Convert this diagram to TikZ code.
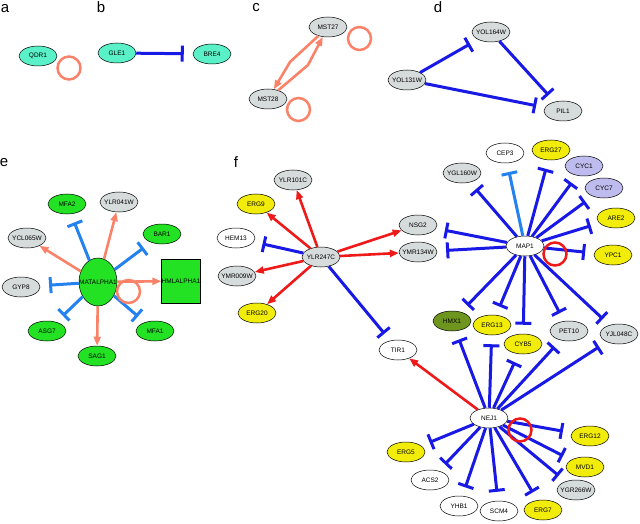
\documentclass[tikz,border=0pt]{standalone}
\usepackage{fontspec}
\setmainfont{Liberation Sans}
\usetikzlibrary{arrows.meta, shapes.geometric}
\definecolor{turq}{RGB}{90,240,200}
\definecolor{genegray}{RGB}{214,219,219}
\definecolor{geneyellow}{RGB}{242,236,10}
\definecolor{genegreen}{RGB}{35,225,35}
\definecolor{geneolive}{RGB}{110,150,30}
\definecolor{genelav}{RGB}{190,188,238}
\definecolor{inhblue}{RGB}{25,25,230}
\definecolor{inhlight}{RGB}{35,130,240}
\definecolor{salmon}{RGB}{250,130,105}
\definecolor{actred}{RGB}{238,25,25}

\begin{document}
\begin{tikzpicture}[
    x=1pt, y=-1pt,
    gene/.style={draw, ellipse, line width=0.5pt, minimum width=38pt, minimum height=20pt,
                 inner sep=0pt, font=\fontsize{6.5}{6.5}\selectfont,
                 execute at begin node={\setbox0=\hbox\bgroup},
                 execute at end node={\egroup\makebox[0pt]{\box0}}},
    inh/.style={draw=inhblue, line width=3pt, -{Bar[width=16pt]}, shorten >=9pt},
    inhl/.style={inh, draw=inhlight},
    act/.style={draw=salmon, line width=2.6pt, -{Triangle[length=9pt,width=7pt]}},
    actr/.style={act, draw=actred},
    selfloop/.style={draw=salmon, line width=2.5pt},
    panel/.style={inner sep=0pt, font=\fontsize{15}{15}\selectfont}
  ]
  \useasboundingbox (0,0) rectangle (640,524);

  % Panel labels
  \node[panel] (pa) at (5,9) {a};
  \node[panel] (pb) at (101,7.5) {b};
  \node[panel] (pc) at (256,8) {c};
  \node[panel] (pd) at (438,7.5) {d};
  \node[panel] (pe) at (4,162.5) {e};
  \node[panel] (pf) at (236,162) {f};

  % a
  \node[gene, fill=turq] (qdr1) at (38,56) {QDR1};
  \draw[selfloop] ([shift={(31,12)}]qdr1.center) circle (11.5pt);

  % b
  \node[gene, fill=turq] (gle1) at (117,53) {GLE1};
  \node[gene, fill=turq] (bre4) at (212,54) {BRE4};
  \draw[inh] (gle1) -- (bre4);

  % c
  \node[gene, fill=genegray] (mst27) at (328,27) {MST27};
  \node[gene, fill=genegray] (mst28) at (268,99) {MST28};
  \coordinate (bendA) at (290,62);
  \coordinate (bendB) at (308,65);
  \draw[act] (mst27) -- (bendA) -- (mst28);
  \draw[act] (mst28) -- (bendB) -- (mst27);
  \draw[selfloop] ([shift={(31.5,11.5)}]mst27.center) circle (11.5pt);
  \draw[selfloop] ([shift={(30.5,10.5)}]mst28.center) circle (11.5pt);

  % d
  \node[gene, fill=genegray] (yol164w) at (491,32) {YOL164W};
  \node[gene, fill=genegray] (yol131w) at (407,80) {YOL131W};
  \node[gene, fill=genegray] (pil1) at (563,111) {PIL1};
  \draw[inh] (yol131w) -- (yol164w);
  \draw[inh] (yol164w) -- (pil1);
  \draw[inh] (yol131w) -- (pil1);

  % e
  \node[gene, fill=genegreen, minimum height=48pt] (matalpha1) at (98,282) {MATALPHA1};
  \node[draw, line width=0.5pt, fill=genegreen, minimum width=38pt, minimum height=44pt,
        inner sep=0pt, font=\fontsize{6.5}{6.5}\selectfont] (hmlalpha1) at (181,281) {HMLALPHA1};
  \node[gene, fill=genegreen] (mfa2) at (67,204) {MFA2};
  \node[gene, fill=genegray] (ylr041w) at (119,202) {YLR041W};
  \node[gene, fill=genegreen] (bar1) at (162,234) {BAR1};
  \node[gene, fill=genegray] (ycl065w) at (27,238) {YCL065W};
  \node[gene, fill=genegray] (gyp8) at (21,287) {GYP8};
  \node[gene, fill=genegreen] (asg7) at (47,331) {ASG7};
  \node[gene, fill=genegreen] (sag1) at (97,356) {SAG1};
  \node[gene, fill=genegreen] (mfa1) at (155,331) {MFA1};
  \foreach \t in {mfa2,bar1,gyp8,asg7,mfa1}
    \draw[inhl] (matalpha1) -- (\t);
  \foreach \t in {ylr041w,ycl065w,sag1,hmlalpha1}
    \draw[act] (matalpha1) -- (\t);
  \draw[selfloop] ([shift={(30.5,9.5)}]matalpha1.center) circle (11.5pt);

  % f
  \node[gene, fill=genegray] (ylr247c) at (321,257) {YLR247C};
  \node[gene, fill=genegray] (ylr101c) at (293,180) {YLR101C};
  \node[gene, fill=geneyellow] (erg9) at (256,204) {ERG9};
  \node[gene, fill=white] (hem13) at (236,238) {HEM13};
  \node[gene, fill=genegray] (ymr009w) at (237,276) {YMR009W};
  \node[gene, fill=geneyellow] (erg20) at (257,313) {ERG20};
  \node[gene, fill=genegray] (nsg2) at (418,225) {NSG2};
  \node[gene, fill=genegray] (ymr134w) at (418,252) {YMR134W};
  \node[gene, fill=white] (map1) at (525,246) {MAP1};
  \node[gene, fill=genegray] (ygl160w) at (462,173) {YGL160W};
  \node[gene, fill=white] (cep3) at (505,153) {CEP3};
  \node[gene, fill=geneyellow] (erg27) at (551,150) {ERG27};
  \node[gene, fill=genelav] (cyc1) at (584,166) {CYC1};
  \node[gene, fill=genelav] (cyc7) at (604,188) {CYC7};
  \node[gene, fill=geneyellow] (are2) at (616,218) {ARE2};
  \node[gene, fill=geneyellow] (ypc1) at (613,255) {YPC1};
  \node[gene, fill=geneolive] (hmx1) at (452,321) {HMX1};
  \node[gene, fill=geneyellow] (erg13) at (492,325) {ERG13};
  \node[gene, fill=geneyellow] (cyb5) at (523,344) {CYB5};
  \node[gene, fill=genegray] (pet10) at (569,331) {PET10};
  \node[gene, fill=genegray] (yjl048c) at (619,334) {YJL048C};
  \node[gene, fill=white] (tir1) at (398,350) {TIR1};
  \node[gene, fill=white] (nej1) at (489,418) {NEJ1};
  \node[gene, fill=geneyellow] (erg5) at (406,452) {ERG5};
  \node[gene, fill=white] (acs2) at (430,480) {ACS2};
  \node[gene, fill=white] (yhb1) at (459,506) {YHB1};
  \node[gene, fill=white] (scm4) at (499,511) {SCM4};
  \node[gene, fill=geneyellow] (erg7) at (543,510) {ERG7};
  \node[gene, fill=genegray] (ygr266w) at (576,490) {YGR266W};
  \node[gene, fill=geneyellow] (mvd1) at (585,467) {MVD1};
  \node[gene, fill=geneyellow] (erg12) at (590,436) {ERG12};

  \foreach \t in {ylr101c,erg9,ymr009w,erg20,nsg2,ymr134w}
    \draw[actr] (ylr247c) -- (\t);
  \draw[inh] (ylr247c) -- (hem13);
  \draw[inh] (ylr247c) -- (tir1);
  \draw[actr] (nej1) -- (tir1);
  \foreach \t in {nsg2,ymr134w,ygl160w,erg27,cyc1,cyc7,are2,ypc1,hmx1,erg13,cyb5,pet10,yjl048c}
    \draw[inh] (map1) -- (\t);
  \draw[inhl] (map1) -- (cep3);
  \foreach \t in {hmx1,erg13,cyb5,pet10,yjl048c,erg12,mvd1,ygr266w,erg7,scm4,yhb1,acs2,erg5}
    \draw[inh] (nej1) -- (\t);
  \draw[selfloop, draw=actred] ([shift={(30,8)}]map1.center) circle (11.5pt);
  \draw[selfloop, draw=actred] ([shift={(31,12)}]nej1.center) circle (11.5pt);
\end{tikzpicture}
\end{document}
